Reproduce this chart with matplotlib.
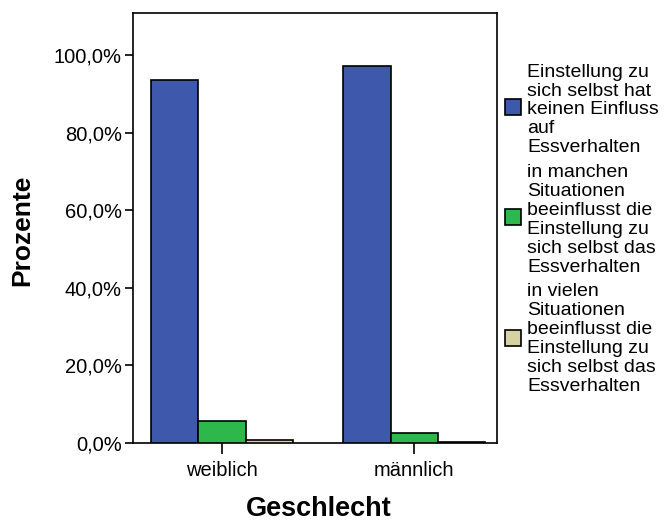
import matplotlib

matplotlib.use("Agg")
import matplotlib.pyplot as plt
from matplotlib.patches import Rectangle
import numpy as np

plt.rcParams["font.family"] = ["Liberation Sans", "DejaVu Sans"]

# data
categories = ["weiblich", "männlich"]
series_labels = [
    "Einstellung zu\nsich selbst hat\nkeinen Einfluss\nauf\nEssverhalten",
    "in manchen\nSituationen\nbeeinflusst die\nEinstellung zu\nsich selbst das\nEssverhalten",
    "in vielen\nSituationen\nbeeinflusst die\nEinstellung zu\nsich selbst das\nEssverhalten",
]
values = [
    [93.6, 97.2],   # kein Einfluss
    [5.7, 2.6],     # manchmal
    [0.7, 0.3],     # oft
]
colors = ["#3E58AC", "#2EB84B", "#D5D1A0"]
yticks = [0, 20, 40, 60, 80, 100]

fig = plt.figure(figsize=(6.64, 5.23), dpi=100)
ax = fig.add_axes([133 / 664, 1 - 443 / 523, 364 / 664, 430 / 523])

x = np.arange(len(categories))
w = 0.245
for i, (vals, c) in enumerate(zip(values, colors)):
    ax.bar(x + (i - 1) * w, vals, width=w, color=c, edgecolor="black",
           linewidth=1.2, zorder=3)

ax.set_xlim(-0.4635, 1.432)
ax.set_ylim(0, 110.8)
ax.set_yticks(yticks)
ax.set_yticklabels([f"{v:.1f}%".replace(".", ",") for v in yticks], fontsize=14.5)
ax.set_xticks(x)
ax.set_xticklabels(categories, fontsize=14.5)
ax.tick_params(axis="y", length=6, width=1.2, pad=2)
ax.tick_params(axis="x", length=8, width=1.2, pad=5)
for s in ax.spines.values():
    s.set_linewidth(1.2)

# axis titles placed in figure coords
fig.text(22 / 664, 1 - 230 / 523, "Prozente", fontsize=19, fontweight="bold",
         rotation=90, ha="center", va="center")
fig.text(319 / 664, 1 - 509 / 523, "Geschlecht", fontsize=19.5, fontweight="bold",
         ha="center", va="center")

# legend drawn manually to match SPSS layout
leg_centers = [107, 217, 338]
text_centers = [110, 220, 339]
for lab, c, yc, yt in zip(series_labels, colors, leg_centers, text_centers):
    fig.patches.append(Rectangle((505 / 664, 1 - (yc + 8) / 523), 16 / 664, 16 / 523,
                                 transform=fig.transFigure, facecolor=c,
                                 edgecolor="black", linewidth=1.2))
    fig.text(527 / 664, 1 - yt / 523, lab, fontsize=14, va="center", ha="left",
             linespacing=1.14)

fig.savefig("out.png", dpi=100)
